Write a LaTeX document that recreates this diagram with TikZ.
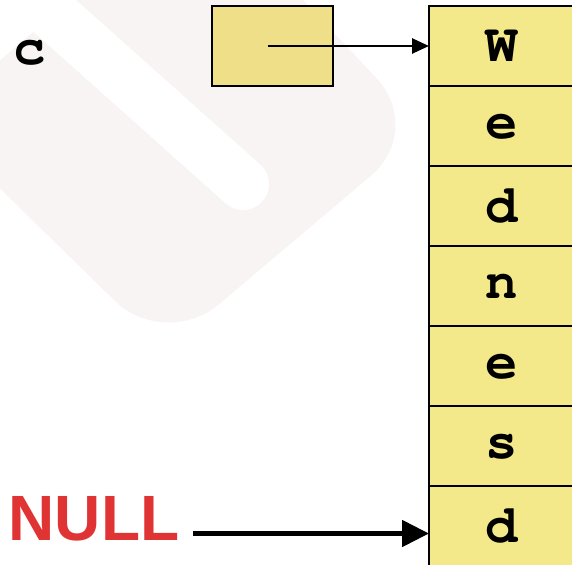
\documentclass[tikz,border=0pt]{standalone}
\usepackage{fontspec}
\setmonofont{TeX Gyre Cursor}
\newfontfamily\nullfamily{Liberation Sans}
\usetikzlibrary{arrows.meta}

\definecolor{cellyellow}{HTML}{F4E98A}
\definecolor{ptryellow}{HTML}{EEDF88}
\definecolor{nullred}{HTML}{E03334}
\definecolor{markpink}{HTML}{F9F4F4}

\tikzset{
    cell/.style={draw, line width=2pt, fill=cellyellow, anchor=west,
        minimum width=146pt, minimum height=80pt, inner sep=0pt, outer sep=0pt,
        text depth=0pt, font=\ttfamily\bfseries\fontsize{54}{54}\selectfont},
    ptrbox/.style={draw, line width=2pt, fill=ptryellow,
        minimum width=121pt, minimum height=80pt, inner sep=0pt, outer sep=0pt},
    varname/.style={font=\ttfamily\bfseries\fontsize{54}{54}\selectfont},
    ptrarrow/.style={-{Triangle[length=17pt,width=15pt]}, line width=2.7pt},
    nullarrow/.style={-{Triangle[length=27pt,width=26pt]}, line width=5pt}
}

\begin{document}
\begin{tikzpicture}[x=1pt,y=-1pt]
    \useasboundingbox (0,0) rectangle (572,564);
    \clip (0,0) rectangle (572,564);

    % faint logo in the background
    \fill[markpink, rounded corners=70pt] (200,-110) -- (425,130) -- (165,350) -- (-70,120) -- cycle;
    \draw[white, line width=52pt, line cap=round] (28,-8) -- (243,184);

    % the string, one char per cell
    \foreach \ch [count=\i from 0] in {W,e,d,n,e,s,d} {
        \node[cell] (s\i) at (429, 46+80*\i) {\ch};
    }

    % pointer c
    \node[varname] (cname) at (30,53) {c};
    \node[ptrbox] (cbox) at (272,46) {};
    \draw[ptrarrow] ([xshift=-4pt]cbox.center) -- (s0.west);

    % NULL marker
    \node[text=nullred, inner sep=0pt, font=\nullfamily\bfseries\fontsize{64}{64}\selectfont] (null) at (94,519) {NULL};
    \coordinate (nullhead) at ([yshift=-7.5pt]s6.west);
    \draw[nullarrow, shorten <=13pt] (null.east |- nullhead) -- (nullhead);
\end{tikzpicture}
\end{document}
